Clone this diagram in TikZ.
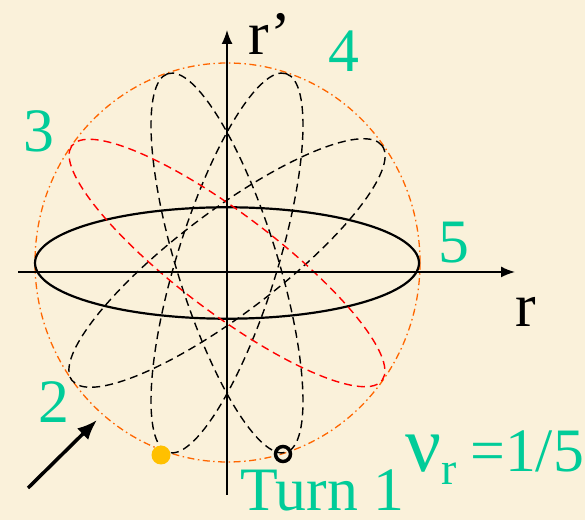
\documentclass[tikz,border=0pt]{standalone}
\usepackage{fontspec}
\setmainfont{Liberation Serif}
\usepackage{xcolor}
\definecolor{parchment}{HTML}{FAF1DA}
\definecolor{turnlabel}{HTML}{00CC99}
\definecolor{envelope}{HTML}{FF6600}
\definecolor{startdot}{HTML}{FFC000}
\usepackage{tikz}
\usetikzlibrary{arrows.meta}

\begin{document}
\begin{tikzpicture}[x=1bp,y=1bp,>={Latex[length=14bp,width=11bp]},
  every node/.style={inner sep=0pt,font=\fontsize{62}{62}\selectfont},
  orbitpath/.style={dash pattern=on 8bp off 5bp,line width=1.4bp},
  turnnum/.style={text=turnlabel,anchor=base}]
\fill[parchment] (0,0) rectangle (585,520);
\coordinate (O) at (227,257);
\coordinate (xl) at (18,248);
\coordinate (xr) at (515,248);
\coordinate (yb) at (227,25);
\coordinate (yt) at (227,490);
\draw[envelope,line width=1.3bp,dash pattern=on 7bp off 3.5bp on 1.5bp off 3.5bp] (227.5,257.5) ellipse (192.5 and 199.5);
\begin{scope}[shift={(O)},xscale=192,yscale=199]
\draw[line width=2.2bp] (0,0) ellipse (1 and 0.28);
\draw[orbitpath,rotate=36] (0,0) ellipse (1 and 0.26);
\draw[orbitpath,rotate=72] (0,0) ellipse (1 and 0.26);
\draw[orbitpath,rotate=108] (0,0) ellipse (1 and 0.26);
\draw[orbitpath,red,rotate=144] (0,0) ellipse (1 and 0.25);
\end{scope}
\draw[->,line width=1.6bp] (xl) -- (xr);
\draw[->,line width=1.6bp] (yb) -- (yt);
\node[circle,fill=startdot,minimum size=19bp] (start) at (161,65) {};
\node[circle,draw,line width=3.5bp,minimum size=15bp] (finish) at (283,66) {};
\coordinate (tail) at (28,32);
\coordinate (tip) at (97,100);
\draw[-{Latex[length=20bp,width=16bp]},line width=3.5bp] (tail) -- (tip);
\node[anchor=base west] (rdot) at (248,465) {r\kern2bp’};
\node[anchor=base west] (rlab) at (515,193) {r};
\node[turnnum] (n5) at (453.5,257) {5};
\node[turnnum] (n4) at (344,448) {4};
\node[turnnum] (n3) at (38.5,368) {3};
\node[turnnum] (n2) at (54,97) {2};
\node[turnnum,anchor=base west,text depth=0pt] (n1) at (240,9) {Turn 1};
\node[turnnum,anchor=base west,font=\fontsize{80}{80}\selectfont] (nu) at (405,48) {ν};
\node[turnnum,anchor=base west,font=\fontsize{46}{46}\selectfont] (nusub) at (441,35) {r};
\node[turnnum,anchor=base west] (nuval) at (470,48) {=1/5};
\end{tikzpicture}
\end{document}
